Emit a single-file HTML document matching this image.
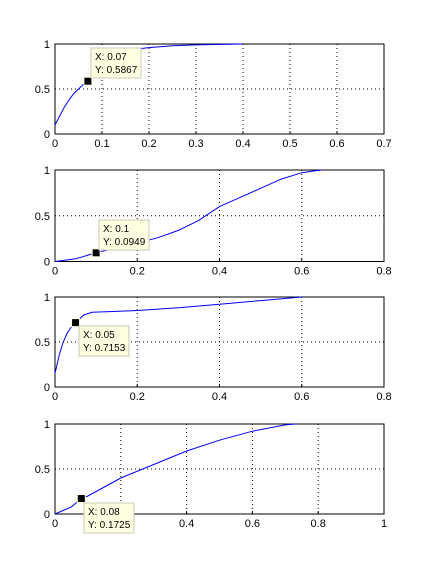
<!DOCTYPE html>
<html><head><meta charset="utf-8"><style>
body{margin:0;background:#fff;width:425px;height:579px;overflow:hidden}
svg{display:block;font-family:"Liberation Sans",sans-serif;font-size:11px}
</style></head><body>
<svg id="s" width="425" height="579" xmlns="http://www.w3.org/2000/svg"></svg>
<script>
const x1=[0,0.01,0.02,0.03,0.04,0.05,0.06,0.07,0.08,0.1,0.12,0.15,0.2,0.25,0.3,0.4];
const y1=[0.1,0.2,0.3,0.38,0.45,0.5,0.55,0.5867,0.65,0.78,0.87,0.93,0.96,0.98,0.99,1.0];
const x2=[0,0.05,0.1,0.15,0.2,0.25,0.3,0.35,0.4,0.45,0.5,0.55,0.6,0.63,0.65];
const y2=[0,0.03,0.0949,0.15,0.2,0.26,0.34,0.45,0.6,0.7,0.8,0.9,0.97,0.99,1];
const x3=[0,0.01,0.02,0.03,0.04,0.05,0.07,0.09,0.15,0.2,0.3,0.4,0.5,0.6];
const y3=[0.15,0.35,0.5,0.6,0.67,0.7153,0.8,0.83,0.84,0.85,0.88,0.92,0.96,1];
const x4=[0,0.05,0.08,0.1,0.2,0.3,0.4,0.5,0.6,0.7,0.73];
const y4=[0,0.08,0.1725,0.2,0.4,0.55,0.7,0.82,0.92,0.99,1];
const xt1=["0","0.1","0.2","0.3","0.4","0.5","0.6","0.7"];
const xt2=["0","0.2","0.4","0.6","0.8"];
const xt4=["0","0.2","0.4","0.6","0.8","1"];
const yt=["0","0.5","1"];
const tipX=["0.07","0.1","0.05","0.08"];
const tipY=["0.5867","0.0949","0.7153","0.1725"];
const tipIdx=[7,2,5,2];
const plots=[
 {xs:x1,ys:y1,xt:xt1,xmax:0.7,top:44,bot:134,box:[91,48]},
 {xs:x2,ys:y2,xt:xt2,xmax:0.8,top:170,bot:261.5,box:[99,220]},
 {xs:x3,ys:y3,xt:xt2,xmax:0.8,top:297,bot:387,box:[79,326]},
 {xs:x4,ys:y4,xt:xt4,xmax:1,top:424,bot:514,box:[84,503]}];
const S=document.getElementById('s');const NS='http://www.w3.org/2000/svg';
function el(t,a,p){const e=document.createElementNS(NS,t);for(const k in a)e.setAttribute(k,a[k]);(p||S).appendChild(e);return e;}
const L=55,R=384;
plots.forEach((p,i)=>{
 const g=el('g',{});
 
 
 const sx=v=>L+v/p.xmax*(R-L), sy=v=>p.bot-v*(p.bot-p.top);
 const n=p.xt.length;
 p.xt.forEach((t,j)=>{const v=j*p.xmax/(n-1),X=sx(v);
  if(j>0&&j<n-1){const gl=el('line',{x1:X,x2:X,y1:p.top,y2:p.bot,stroke:'#000','stroke-dasharray':'1,3'},g);}
  const tk=el('line',{x1:X,x2:X,y1:p.bot,y2:p.bot-3,stroke:'#000'},g);
  const tx=el('text',{x:X,y:p.bot+13,'text-anchor':'middle'},g);tx.textContent=t;});
 yt.forEach((t,j)=>{const Y=sy(j*0.5);
  if(j==1){const gl=el('line',{x1:L,x2:R,y1:Y,y2:Y,stroke:'#000','stroke-dasharray':'1,3'},g);}
  const tx=el('text',{x:L-5,y:Y+4,'text-anchor':'end'},g);tx.textContent=t;});
 const ax=el('rect',{x:L,y:p.top,width:R-L,height:p.bot-p.top,fill:'none',stroke:'#000'},g);
 
 const pts=p.xs.map((v,k)=>sx(v).toFixed(1)+','+sy(p.ys[k]).toFixed(1)).join(' ');
 const ln=el('polyline',{points:pts,fill:'none',stroke:'#00f','stroke-width':1},g);
 
 const k=tipIdx[i],mx=sx(p.xs[k]),my=sy(p.ys[k]);
 const mk=el('rect',{x:mx-4,y:my-4,width:8,height:8,fill:'#000',stroke:'#ffffe0','stroke-width':1},g);
 
 const bx=el('rect',{x:p.box[0],y:p.box[1],width:50,height:30,fill:'#ffffe1',stroke:'#c8c8b4'},g);
 
 const t1=el('text',{x:p.box[0]+4,y:p.box[1]+12,'font-size':'10'},g);t1.textContent='X: '+tipX[i];
 const t2=el('text',{x:p.box[0]+4,y:p.box[1]+25,'font-size':'10'},g);t2.textContent='Y: '+tipY[i];
});
</script>
</body></html>
